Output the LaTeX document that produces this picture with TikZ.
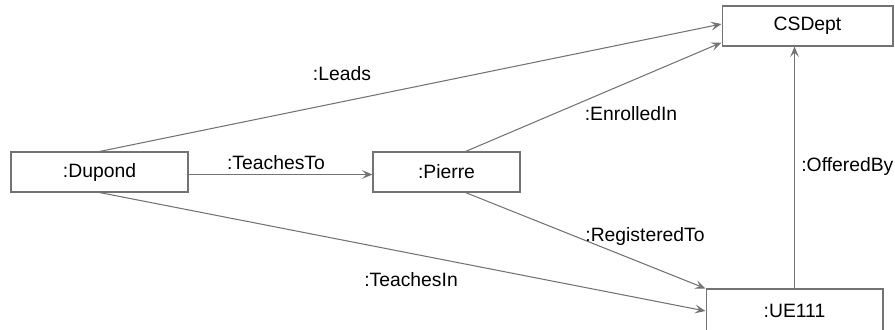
\documentclass[tikz,border=0pt]{standalone}
\usepackage{fontspec}
\setmainfont{Liberation Sans}
\usetikzlibrary{arrows.meta}
\begin{document}
\begin{tikzpicture}[x=0.02cm,y=-0.02cm,
    obj/.style={draw=gray!90!black,line width=0.6pt,minimum height=0.8cm,inner sep=0pt},
    link/.style={draw=gray!90!black,line width=0.6pt,-{Stealth[length=6pt,width=5pt,inset=2.5pt]}},
    font=\fontsize{11}{13}\selectfont]
\useasboundingbox (0,0) rectangle (895,329);
\node[obj,minimum width=3.54cm] (dupond) at (99.5,172) {:Dupond};
\node[obj,minimum width=2.94cm] (pierre) at (446.5,172) {:Pierre};
\node[obj,minimum width=3.42cm] (csdept) at (807.5,26) {CSDept};
\node[obj,minimum width=3.54cm,minimum height=0.88cm] (ue) at (794.5,311) {:UE111};

\draw[link] (dupond.north) -- ([yshift=0.04cm]csdept.west);
\draw[link] ([xshift=0.38cm]pierre.north) -- ([yshift=0.08cm]csdept.south west);
\draw[link] ([yshift=-0.05cm]dupond.east) -- ([yshift=-0.05cm]pierre.west);
\draw[link] (dupond.south) -- ([yshift=0.0cm]ue.west);
\draw[link] ([xshift=0.38cm]pierre.south) -- (ue.north west);
\draw[link] (ue.north) -- (ue.north |- csdept.south);

\node (leads) at (342,74) {:Leads};
\node (enrolled) at (631,114) {:EnrolledIn};
\node (teachesto) at (276,163) {:TeachesTo};
\node (teachesin) at (411,280) {:TeachesIn};
\node (registered) at (645,236) {:RegisteredTo};
\node[anchor=west,inner sep=0pt] (offered) at (801,166) {:OfferedBy};
\end{tikzpicture}
\end{document}
